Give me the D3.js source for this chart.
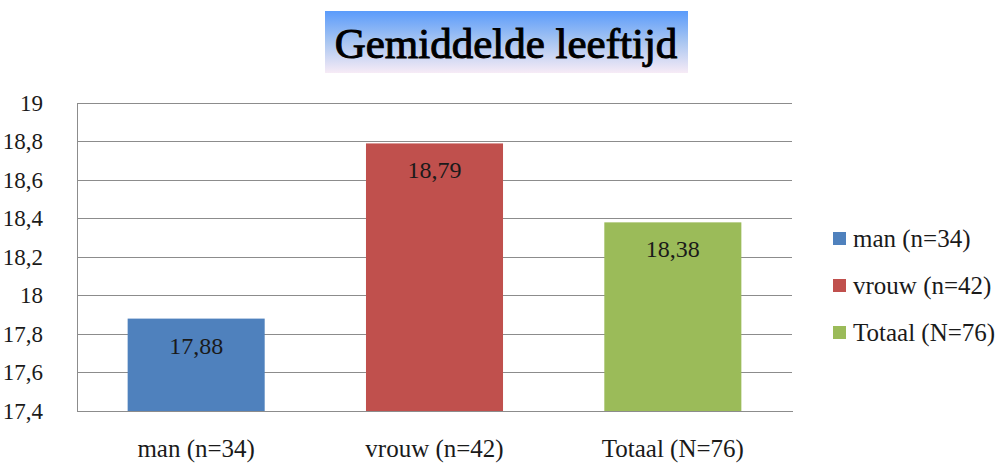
<!DOCTYPE html>
<html><head><meta charset="utf-8">
<script src="https://cdn.jsdelivr.net/npm/d3@7/dist/d3.min.js"></script>
<style>body{margin:0;background:#fff}svg{display:block}</style>
</head><body><svg id="c" width="1008" height="463"></svg>
<script>
const title = "Gemiddelde leeftijd";
const categories = ["man (n=34)", "vrouw (n=42)", "Totaal (N=76)"];
const values = [17.88, 18.79, 18.38];
const colors = ["#4f81bd", "#c0504d", "#9bbb59"];
const yTicks = [17.4, 17.6, 17.8, 18, 18.2, 18.4, 18.6, 18.8, 19];
const yDomain = [17.4, 19];

const FONT = "Liberation Serif";
const fmt = v => String(v).replace(".", ",");
const svg = d3.select("#c").attr("font-family", FONT);
const m = {l: 77, r: 792, t: 103, b: 411};

const defs = svg.append("defs");
const g = defs.append("linearGradient").attr("id", "tg").attr("x1", 0).attr("y1", 0).attr("x2", 0).attr("y2", 1);
g.append("stop").attr("offset", "0%").attr("stop-color", "#5a9bfb");
g.append("stop").attr("offset", "50%").attr("stop-color", "#a9c6f1");
g.append("stop").attr("offset", "100%").attr("stop-color", "#f7ebf6");

svg.append("rect").attr("x", 325).attr("y", 11).attr("width", 363).attr("height", 62).attr("fill", "url(#tg)");
svg.append("text").attr("x", 506).attr("y", 58).attr("text-anchor", "middle")
  .attr("font-family", FONT).attr("font-size", 43).attr("fill", "#000")
  .attr("stroke", "#000").attr("stroke-width", 1).text(title);

const x = d3.scaleBand().domain(categories).range([m.l, m.r]).paddingInner(0.425).paddingOuter(0.2125);
const y = d3.scaleLinear().domain(yDomain).range([m.b, m.t]);

// gridlines
svg.append("g").selectAll("line").data(yTicks).join("line")
  .attr("x1", m.l).attr("x2", m.r).attr("y1", d => y(d)).attr("y2", d => y(d))
  .attr("stroke", "#8c8c8c").attr("stroke-width", 1).attr("shape-rendering", "crispEdges");

// y axis
const ya = svg.append("g").attr("transform", `translate(${m.l},0)`)
  .call(d3.axisLeft(y).tickValues(yTicks).tickSize(0).tickPadding(34).tickFormat(fmt))
  .attr("font-family", FONT).attr("font-size", 23);
ya.select(".domain").attr("stroke", "#8c8c8c").attr("shape-rendering", "crispEdges");
ya.selectAll("text").attr("fill", "#1a1a1a");

// bars
svg.append("g").selectAll("rect").data(values).join("rect")
  .attr("x", (d, i) => x(categories[i])).attr("width", x.bandwidth())
  .attr("y", d => y(d)).attr("height", d => m.b - y(d)).attr("fill", (d, i) => colors[i]);

// x axis
const xa = svg.append("g").attr("transform", `translate(0,${m.b})`)
  .call(d3.axisBottom(x).tickSize(0).tickPadding(28))
  .attr("font-family", FONT).attr("font-size", 25);
xa.select(".domain").attr("stroke", "#8c8c8c").attr("shape-rendering", "crispEdges");
xa.selectAll("text").attr("fill", "#1a1a1a");

// value labels
svg.append("g").selectAll("text").data(values).join("text")
  .attr("x", (d, i) => x(categories[i]) + x.bandwidth() / 2).attr("y", d => y(d) + 35)
  .attr("text-anchor", "middle").attr("font-family", FONT).attr("font-size", 24)
  .attr("fill", "#1a1a1a").text(fmt);

// legend
const lg = svg.append("g").attr("transform", "translate(833,232)");
const li = lg.selectAll("g").data(categories).join("g").attr("transform", (d, i) => `translate(0,${i * 47})`);
li.append("rect").attr("width", 13).attr("height", 13).attr("fill", (d, i) => colors[i]);
li.append("text").attr("x", 20).attr("y", 15).attr("font-family", FONT).attr("font-size", 25)
  .attr("fill", "#1a1a1a").text(d => d);
</script></body></html>
